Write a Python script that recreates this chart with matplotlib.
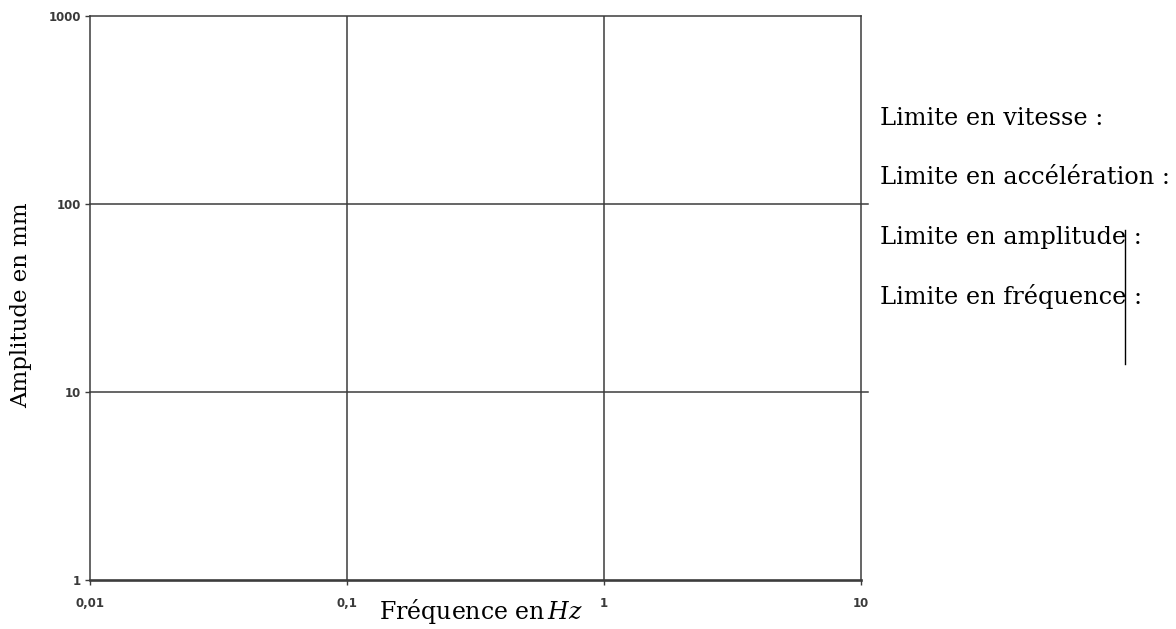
import matplotlib
matplotlib.use("Agg")
import matplotlib.pyplot as plt

plt.rcParams.update({
    "font.family": "DejaVu Serif",
    "mathtext.fontset": "dejavuserif",
})

# Axis ticks (log-log grid, decades only)
freq_ticks = [0.01, 0.1, 1, 10]
freq_labels = ["0,01", "0,1", "1", "10"]
amp_ticks = [1, 10, 100, 1000]
amp_labels = ["1", "10", "100", "1000"]

# Blank answer lines next to the chart
limit_labels = [
    "Limite en vitesse :",
    "Limite en accélération :",
    "Limite en amplitude :",
    "Limite en fréquence :",
]

W, H = 1176, 629
C_GRID = "#3c3c3c"
C_TICK = "#3a3a3a"

fig = plt.figure(figsize=(W / 100, H / 100), dpi=100)
ax = fig.add_axes([90 / W, (H - 580) / H, 771 / W, 564 / H])

ax.set_xscale("log")
ax.set_yscale("log")
ax.set_xlim(freq_ticks[0], freq_ticks[-1])
ax.set_ylim(amp_ticks[0], amp_ticks[-1])

ax.set_xticks(freq_ticks)
ax.set_xticklabels(freq_labels)
ax.set_yticks(amp_ticks)
ax.set_yticklabels(amp_labels)
ax.minorticks_off()
ax.tick_params(axis="both", direction="out", length=3.5, width=1.0,
               color=C_GRID, labelsize=8.5, labelcolor=C_TICK)
ax.tick_params(axis="x", pad=8.5)
ax.tick_params(axis="y", pad=3)
for lab in ax.get_xticklabels() + ax.get_yticklabels():
    lab.set_fontfamily("DejaVu Sans")
    lab.set_fontweight("bold")

for sp in ax.spines.values():
    sp.set_color(C_GRID)
    sp.set_linewidth(1.1)
ax.spines["bottom"].set_linewidth(1.9)

# Inner grid lines; the horizontal ones run a little past the right frame
for x in freq_ticks[1:-1]:
    ax.axvline(x, color=C_GRID, linewidth=1.1)
for y in amp_ticks[1:-1]:
    ax.axhline(y, xmin=0, xmax=1.009, color=C_GRID, linewidth=1.1, clip_on=False)

# Axis titles
fig.text(481 / W, 1 - 619 / H, r"Fréquence en$\,Hz$", fontsize=17,
         ha="center", va="baseline")
fig.text(21 / W, 1 - 305 / H, "Amplitude en mm", fontsize=16.5,
         rotation=90, ha="center", va="center")

baselines = [125, 184, 244, 304]
for txt, yb in zip(limit_labels, baselines):
    fig.text(880 / W, 1 - yb / H, txt, fontsize=17.3, va="baseline",
             ha="left", color="black")

fig.add_artist(plt.Line2D([1125 / W, 1125 / W], [1 - 230 / H, 1 - 364 / H],
                          color="black", linewidth=1.0))

fig.savefig("out.png", dpi=100)
